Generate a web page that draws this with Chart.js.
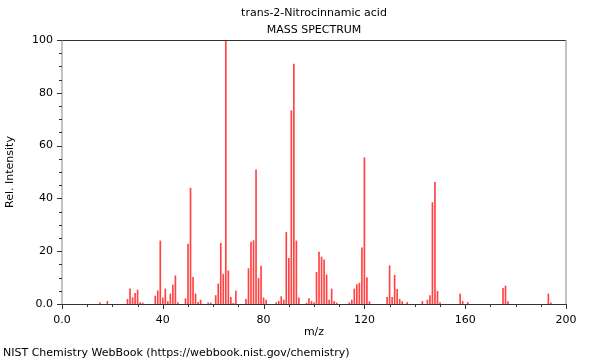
<!DOCTYPE html>
<html>
<head>
<meta charset="utf-8">
<title>trans-2-Nitrocinnamic acid</title>
<script src="https://cdn.jsdelivr.net/npm/chart.js@4"></script>
<style>
  html, body { margin: 0; padding: 0; background: #fff; }
</style>
</head>
<body>
<canvas id="canvas" width="600" height="360"></canvas>
<script>
const masas = [15, 18, 26, 27, 28, 29, 30, 31, 32, 37, 38, 39, 40, 41, 42, 43, 44, 45, 46, 49,
  50, 51, 52, 53, 54, 55, 58, 59, 61, 62, 63, 64, 65, 66, 67, 68, 69, 73, 74, 75,
  76, 77, 78, 79, 80, 81, 85, 86, 87, 88, 89, 90, 91, 92, 93, 94, 97, 98, 99, 100,
  101, 102, 103, 104, 105, 106, 107, 108, 109, 114, 115, 116, 117, 118, 119, 120, 121, 122, 129, 130,
  131, 132, 133, 134, 135, 137, 143, 145, 146, 147, 148, 149, 150, 158, 159, 161, 175, 176, 177, 193, 194];
const intensidades = [0.5, 1.0, 1.8, 5.7, 2.4, 4.0, 5.3, 0.5, 0.4, 3.0, 5.0, 23.9, 2.3, 5.7, 0.9, 3.8, 7.2, 10.7, 0.5, 2.0,
  22.7, 43.9, 10.1, 3.8, 0.6, 1.5, 0.4, 0.4, 3.2, 7.6, 23.0, 11.3, 100, 12.6, 2.5, 0.3, 4.9, 1.8, 13.4, 23.4,
  24.0, 50.8, 9.7, 14.4, 2.3, 1.5, 0.5, 1.0, 2.8, 1.5, 27.1, 17.3, 73.2, 90.9, 23.9, 2.3, 0.3, 2.1, 1.0, 0.5,
  12.0, 19.7, 17.8, 16.7, 11.0, 1.5, 5.7, 1.0, 0.4, 0.5, 1.5, 5.7, 7.4, 7.9, 21.3, 55.4, 10.0, 0.9, 2.5, 14.5,
  2.5, 10.9, 5.6, 1.8, 0.9, 0.6, 1.0, 1.5, 3.2, 38.4, 46.1, 4.8, 0.5, 3.8, 1.0, 0.6, 5.9, 6.8, 0.9, 3.8, 0.4];

const ticksX = [0, 40, 80, 120, 160, 200];
const ticksY = [0, 20, 40, 60, 80, 100];
const titulo = 'trans-2-Nitrocinnamic acid';
const subtitulo = 'MASS SPECTRUM';
const tituloX = 'm/z';
const tituloY = 'Rel. Intensity';
const pie = 'NIST Chemistry WebBook (https://webbook.nist.gov/chemistry)';

const fuente = '"DejaVu Sans", sans-serif';

const etiqueta = (v, lista) => lista.includes(v) ? (v === 0 ? '0.0' : String(v)) : '';

// Marco, marcas de los ejes y textos
const marcoPlugin = {
  id: 'marco',
  afterDraw(chart) {
    const { ctx, chartArea: a, scales } = chart;
    ctx.save();
    ctx.lineWidth = 1;
    // arriba y abajo oscuros, costados grises
    ctx.strokeStyle = '#333';
    ctx.beginPath();
    ctx.moveTo(a.left, a.top + 0.5);
    ctx.lineTo(a.right, a.top + 0.5);
    ctx.moveTo(a.left, a.bottom + 0.5);
    ctx.lineTo(a.right, a.bottom + 0.5);
    ctx.stroke();
    ctx.strokeStyle = '#888';
    ctx.beginPath();
    ctx.moveTo(a.left, a.top);
    ctx.lineTo(a.left, a.bottom);
    ctx.moveTo(a.right, a.top);
    ctx.lineTo(a.right, a.bottom);
    ctx.stroke();

    ctx.strokeStyle = '#333';
    ctx.beginPath();
    for (let v = 0; v <= 100; v += 5) {
      const y = Math.round(scales.y.getPixelForValue(v)) + 0.5;
      const largo = v % 20 === 0 ? 5 : 3;
      ctx.moveTo(a.left - largo, y);
      ctx.lineTo(a.left, y);
    }
    for (let v = 0; v <= 200; v += 10) {
      const x = Math.round(scales.x.getPixelForValue(v)) + 0.5;
      const largo = v % 40 === 0 ? 5 : 3;
      ctx.moveTo(x, a.bottom);
      ctx.lineTo(x, a.bottom + largo);
    }
    ctx.stroke();

    ctx.fillStyle = '#000';
    ctx.font = '11px ' + fuente;
    ctx.textBaseline = 'middle';
    ctx.textAlign = 'center';
    const cx = (a.left + a.right) / 2;
    ctx.fillText(titulo, cx, 13);
    ctx.fillText(subtitulo, cx, 30);
    ctx.fillText(tituloX, cx, 332);
    ctx.textAlign = 'left';
    ctx.fillText(pie, 3, 353);

    ctx.translate(10, (a.top + a.bottom) / 2);
    ctx.rotate(-Math.PI / 2);
    ctx.textAlign = 'center';
    ctx.fillText(tituloY, 0, 0);
    ctx.restore();
  }
};

const grafico = document.getElementById('canvas');

new Chart(grafico, {
  type: 'bar',
  data: {
    datasets: [
      {
        data: masas.map((m, i) => ({ x: m, y: intensidades[i] })),
        backgroundColor: 'rgba(255, 20, 20, 0.8)',
        borderWidth: 0,
        barThickness: 1,
      },
    ],
  },
  options: {
    responsive: false,
    animation: false,
    layout: { padding: { top: 40, right: 34, left: 0, bottom: 0 } },
    plugins: { legend: { display: false }, tooltip: { enabled: false } },
    scales: {
      x: {
        type: 'linear',
        min: 0,
        max: 200,
        offset: false,
        grid: { display: false, drawTicks: false },
        border: { display: false },
        afterFit: (s) => { s.height = 56; },
        ticks: {
          stepSize: 10,
          autoSkip: false,
          maxRotation: 0,
          padding: 10,
          color: '#000',
          font: { family: fuente, size: 11 },
          callback: (v) => etiqueta(v, ticksX),
        },
      },
      y: {
        min: 0,
        max: 100,
        grid: { display: false, drawTicks: false },
        border: { display: false },
        afterFit: (s) => { s.width = 62; },
        ticks: {
          stepSize: 5,
          autoSkip: false,
          padding: 9,
          color: '#000',
          font: { family: fuente, size: 11 },
          callback: (v) => etiqueta(v, ticksY),
        },
      },
    },
  },
  plugins: [marcoPlugin],
});
</script>
</body>
</html>
